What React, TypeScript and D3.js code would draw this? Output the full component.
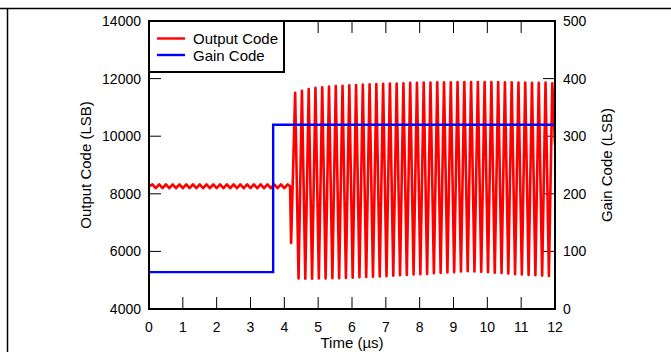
import React from "react";
import * as d3 from "d3";

// ---- data ----
const xTicks = [0, 1, 2, 3, 4, 5, 6, 7, 8, 9, 10, 11, 12];
const leftTicks = [4000, 6000, 8000, 10000, 12000, 14000];
const rightTicks = [0, 100, 200, 300, 400, 500];

// Small ripple before the gain switch (period 0.2 µs)
const rippleStart = 0.0;
const rippleStartValue = 8260;
const rippleHigh = [8325, 8325, 8330, 8325, 8325, 8325, 8330, 8325, 8325, 8325, 8325, 8330, 8325, 8325, 8325, 8325, 8330, 8325, 8325, 8325, 8325];
const rippleLow = [8195, 8200, 8195, 8195, 8195, 8200, 8195, 8195, 8195, 8200, 8195, 8195, 8195, 8195, 8200, 8195, 8195, 8195, 8195, 8195];
const ripplePeriod = 0.2;

// Transition dip
const dipTimes = [4.17, 4.2];
const dipValues = [8260, 6290];

// Large oscillation after the switch (period 0.2 µs)
const oscStart = 4.32;
const oscPeriod = 0.2;
const peakValues = [11510, 11580, 11640, 11680, 11700, 11720, 11740, 11750, 11770, 11780, 11790, 11800, 11810, 11820, 11830, 11830, 11840, 11850, 11850, 11860, 11860, 11870, 11870, 11870, 11880, 11880, 11880, 11880, 11880, 11880, 11880, 11870, 11870, 11860, 11860, 11850, 11850, 11860, 11840];
const troughValues = [5060, 5050, 5050, 5060, 5060, 5070, 5070, 5080, 5090, 5100, 5110, 5120, 5130, 5140, 5160, 5170, 5180, 5200, 5210, 5220, 5240, 5250, 5270, 5280, 5300, 5310, 5300, 5290, 5280, 5260, 5250, 5230, 5210, 5200, 5180, 5170, 5160, 5150];
const endTime = 12;
const endValue = 9700;

// Gain code
const gainTimes = [0, 3.67, 12];
const gainValues = [64, 320, 320];

// ---- layout ----
const W = 671;
const H = 352;
const L = 149, R = 555, T = 21, B = 309;
const FONT = "Liberation Sans, Arial, Helvetica, sans-serif";

export default function App() {
  const x = d3.scaleLinear().domain([0, 12]).range([L, R]);
  const yL = d3.scaleLinear().domain([4000, 14000]).range([B, T]);
  const yR = d3.scaleLinear().domain([0, 500]).range([B, T]);

  // build output code series from the read extrema
  const out: [number, number][] = [];
  out.push([rippleStart, rippleStartValue]);
  for (let k = 0; k < rippleHigh.length; k++) {
    out.push([rippleStart + ripplePeriod / 2 + k * ripplePeriod, rippleHigh[k]]);
    if (k < rippleLow.length) out.push([rippleStart + (k + 1) * ripplePeriod, rippleLow[k]]);
  }
  dipTimes.forEach((t, i) => out.push([t, dipValues[i]]));
  for (let k = 0; k < peakValues.length; k++) {
    out.push([oscStart + k * oscPeriod, peakValues[k]]);
    if (k < troughValues.length) out.push([oscStart + oscPeriod / 2 + k * oscPeriod, troughValues[k]]);
  }
  out.push([endTime, endValue]);

  const outLine = d3
    .line<[number, number]>()
    .x((d) => x(d[0]))
    .y((d) => yL(d[1]))
    .curve(d3.curveLinear);

  const gainData: [number, number][] = gainTimes.map((t, i) => [t, gainValues[i]]);
  const gainLine = d3
    .line<[number, number]>()
    .x((d) => x(d[0]))
    .y((d) => yR(d[1]))
    .curve(d3.curveStepAfter);

  const tickLen = 12;

  return (
    <svg
      width={W}
      height={H}
      style={{ position: "absolute", left: 0, top: 0, background: "#fff" }}
      fontFamily={FONT}
    >
      {/* outer page frame */}
      <line x1={0} x2={W} y1={8.5} y2={8.5} stroke="#000" strokeWidth={1.5} />
      <line x1={7.5} x2={7.5} y1={8} y2={H} stroke="#000" strokeWidth={1.5} />

      <defs>
        <clipPath id="plot">
          <rect x={L} y={T} width={R - L} height={B - T} />
        </clipPath>
      </defs>

      {/* ticks */}
      {xTicks.map((t) => (
        <g key={"xt" + t}>
          <line x1={x(t)} x2={x(t)} y1={B} y2={B - tickLen} stroke="#000" strokeWidth={1} />
          <line x1={x(t)} x2={x(t)} y1={T} y2={T + tickLen} stroke="#000" strokeWidth={1} />
          <text x={x(t)} y={332} fontSize={14} textAnchor="middle" fill="#000">
            {t}
          </text>
        </g>
      ))}
      {leftTicks.map((t) => (
        <g key={"yl" + t}>
          <line x1={L} x2={L + tickLen} y1={yL(t)} y2={yL(t)} stroke="#000" strokeWidth={1} />
          <text x={141} y={yL(t) + 5} fontSize={14} textAnchor="end" fill="#000">
            {t}
          </text>
        </g>
      ))}
      {rightTicks.map((t) => (
        <g key={"yr" + t}>
          <line x1={R} x2={R - tickLen} y1={yR(t)} y2={yR(t)} stroke="#000" strokeWidth={1} />
          <text x={563} y={yR(t) + 5} fontSize={14} textAnchor="start" fill="#000">
            {t}
          </text>
        </g>
      ))}

      {/* series */}
      <g clipPath="url(#plot)">
        <path d={outLine(out) || ""} fill="none" stroke="#ff0000" strokeWidth={2.6} strokeLinejoin="round" />
        <path d={gainLine(gainData) || ""} fill="none" stroke="#0000ff" strokeWidth={2.4} />
      </g>

      {/* plot frame */}
      <rect x={L} y={T} width={R - L} height={B - T} fill="none" stroke="#000" strokeWidth={2} />

      {/* legend */}
      <rect x={L} y={T} width={284 - L} height={72 - T} fill="#fff" stroke="#000" strokeWidth={2} />
      <line x1={157} x2={185} y1={38.5} y2={38.5} stroke="#ff0000" strokeWidth={2.4} />
      <text x={193} y={43.5} fontSize={15} fill="#000">Output Code</text>
      <line x1={157} x2={185} y1={55} y2={55} stroke="#0000ff" strokeWidth={2.4} />
      <text x={193} y={60.5} fontSize={15} fill="#000">Gain Code</text>

      {/* axis titles */}
      <text
        transform={`translate(91,${(T + B) / 2}) rotate(-90)`}
        fontSize={15}
        textAnchor="middle"
        fill="#000"
      >
        Output Code (LSB)
      </text>
      <text
        transform={`translate(612,${(T + B) / 2}) rotate(-90)`}
        fontSize={15}
        textAnchor="middle"
        fill="#000"
      >
        Gain Code (LSB)
      </text>
      <text x={352} y={348} fontSize={15} textAnchor="middle" fill="#000">
        Time (µs)
      </text>
    </svg>
  );
}
